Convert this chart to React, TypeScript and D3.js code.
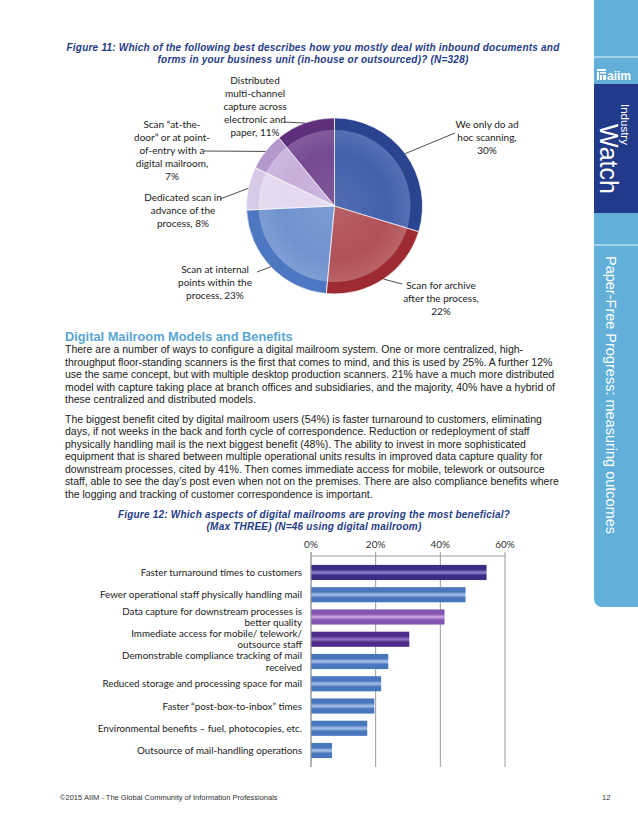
import React from 'react';
import * as d3 from 'd3';

// ---------- data ----------
const pieCategories = [
  'We only do ad hoc scanning',
  'Scan for archive after the process',
  'Scan at internal points within the process',
  'Dedicated scan in advance of the process',
  'Scan "at-the-door" or at point-of-entry with a digital mailroom',
  'Distributed multi-channel capture across electronic and paper',
];
const pieValues = [30, 22, 23, 8, 7, 11];
const pieLabelLines = [
  ['We only do ad', 'hoc scanning,', '30%'],
  ['Scan for archive', 'after the process,', '22%'],
  ['Scan at internal', 'points within the', 'process, 23%'],
  ['Dedicated scan in', 'advance of the', 'process, 8%'],
  ['Scan \u201Cat-the-', 'door\u201D or at point-', 'of-entry with a', 'digital mailroom,', '7%'],
  ['Distributed', 'multi-channel', 'capture across', 'electronic and', 'paper, 11%'],
];

const barCategories = [
  ['Faster turnaround times to customers'],
  ['Fewer operational staff physically handling mail'],
  ['Data capture for downstream processes is', 'better quality'],
  ['Immediate access  for mobile/ telework/', 'outsource staff'],
  ['Demonstrable compliance tracking of mail', 'received'],
  ['Reduced storage and processing space for mail'],
  ['Faster \u201Cpost-box-to-inbox\u201D times'],
  ['Environmental benefits \u2013 fuel, photocopies, etc.'],
  ['Outsource of mail-handling operations'],
];
const barValues = [54.3, 47.8, 41.3, 30.4, 23.9, 21.7, 19.6, 17.4, 6.5];
const barTicks = [0, 20, 40, 60];

const para1 = [
  'There are a number of ways to configure a digital mailroom system. One or more centralized, high-',
  'throughput floor-standing scanners is the first that comes to mind, and this is used by 25%. A further 12%',
  'use the same concept, but with multiple desktop production scanners. 21% have a much more distributed',
  'model with capture taking place at branch offices  and subsidiaries, and the majority, 40% have a hybrid of',
  'these centralized and distributed models.',
];
const para2 = [
  'The biggest benefit cited by digital mailroom users (54%) is faster turnaround to customers, eliminating',
  'days, if not weeks in the back and forth cycle of correspondence. Reduction or redeployment of staff',
  'physically handling mail is the next biggest benefit (48%). The ability to invest in more sophisticated',
  'equipment that is shared between multiple operational units results in improved data capture quality for',
  'downstream processes, cited by 41%. Then comes immediate access for mobile, telework or outsource',
  'staff, able to see the day\u2019s post even when not on the premises. There are also compliance benefits where',
  'the logging and tracking of customer correspondence is important.',
];

// ---------- styles / layout ----------
const pieOuter = ['#2B4490', '#9E2B33', '#4D77C1', '#D8CAE6', '#B398CC', '#5E2F7B'];
const pieInner = ['#3A5AA8', '#AE4A51', '#6A8ECD', '#E3D7EE', '#C4ADDA', '#70428D'];
const pieLabelLayout = [
  { x: 487, y: 124, ex: 455, ey: 133 },
  { x: 441, y: 285, ex: 402, ey: 284 },
  { x: 215, y: 269, ex: 257, ey: 272 },
  { x: 183, y: 197, ex: 220, ey: 199 },
  { x: 172, y: 124, ex: 204, ey: 151 },
  { x: 255, y: 80, ex: 284, ey: 122 },
];
const barColors = [
  ['#3A2D85', '#9182CE'],
  ['#4977BD', '#A9C3EA'],
  ['#8454B3', '#CDA9E4'],
  ['#4C2B8A', '#9476C6'],
  ['#4977BD', '#A9C3EA'],
  ['#4977BD', '#A9C3EA'],
  ['#4977BD', '#A9C3EA'],
  ['#4977BD', '#A9C3EA'],
  ['#4977BD', '#A9C3EA'],
];

const ARIAL = '"Liberation Sans", Arial, sans-serif';
const CAL = 'Lato, "Open Sans", sans-serif';

export default function App() {
  const cx = 334.5, cy = 206, R = 88, Ri = 76;
  const pie = d3.pie<number>().sort(null).value((d) => d);
  const arcs = pie(pieValues);
  const arcOuter = d3.arc<d3.PieArcDatum<number>>().innerRadius(0).outerRadius(R);
  const arcInner = d3.arc<d3.PieArcDatum<number>>().innerRadius(0).outerRadius(Ri);

  const x = d3.scaleLinear().domain([0, 60]).range([311, 505]);
  const y = d3.scaleBand<number>().domain(barValues.map((_, i) => i)).range([556, 767]).paddingInner(0.32).paddingOuter(0.4);

  return (
    <svg width={638} height={826} style={{ position: 'absolute', left: 0, top: 0, display: 'block', background: '#fff' }}>
      <defs>
        {barColors.map((c, i) => (
          <linearGradient key={i} id={`bg${i}`} x1="0" y1="0" x2="0" y2="1">
            <stop offset="0" stopColor={c[0]} />
            <stop offset="0.3" stopColor={c[0]} />
            <stop offset="0.5" stopColor={c[1]} />
            <stop offset="0.7" stopColor={c[0]} />
            <stop offset="1" stopColor={c[0]} />
          </linearGradient>
        ))}
        <radialGradient id="pieShade" cx="0.5" cy="0.5" r="0.5">
          <stop offset="0" stopColor="#fff" stopOpacity={0.12} />
          <stop offset="0.7" stopColor="#fff" stopOpacity={0.04} />
          <stop offset="1" stopColor="#fff" stopOpacity={0.14} />
        </radialGradient>
      </defs>

      {/* sidebar */}
      <path d="M594,0 H638 V607 H602 A8,8 0 0 1 594,599 Z" fill="#62AFDA" />
      <line x1={594} x2={638} y1={57} y2={57} stroke="#E6F2FA" strokeWidth={1} />
      <line x1={594} x2={638} y1={245} y2={245} stroke="#E6F2FA" strokeWidth={1} />
      <rect x={594} y={84} width={44} height={129} fill="#223A8A" />
      <g fill="#fff">
        <rect x={597} y={69} width={9} height={2} />
        <rect x={597} y={72} width={2} height={8} />
        <rect x={600} y={72} width={6} height={1.5} />
        <rect x={600} y={75} width={2} height={5} />
        <rect x={603} y={75} width={3} height={5} />
        <text x={607} y={80} fontFamily={ARIAL} fontWeight="bold" fontSize={12}>aiim</text>
      </g>
      <text transform="translate(621,104) rotate(90)" fill="#fff" fontFamily={ARIAL} fontSize={11.5}>Industry</text>
      <text transform="translate(600,124) rotate(90)" fill="#fff" fontFamily={ARIAL} fontSize={25}>Watch</text>
      <text transform="translate(606,256) rotate(90)" fill="#fff" fontFamily={ARIAL} fontSize={14.5}>Paper-Free Progress: measuring outcomes</text>

      {/* figure 11 title */}
      <g fontFamily={ARIAL} fontWeight="bold" fontStyle="italic" fontSize={10} fill="#1F3C88" textAnchor="middle" letterSpacing={0.22}>
        <text x={313} y={51}>Figure 11: Which of the following best describes how you mostly deal with inbound documents and</text>
        <text x={313} y={63}>forms in your business unit (in-house or outsourced)? (N=328)</text>
      </g>

      {/* pie */}
      <g transform={`translate(${cx},${cy})`}>
        {arcs.map((a, i) => (
          <path key={`o${i}`} d={arcOuter(a) || ''} fill={pieOuter[i]} />
        ))}
        {arcs.map((a, i) => (
          <path key={`i${i}`} d={arcInner(a) || ''} fill={pieInner[i]} />
        ))}
        <circle r={Ri} fill="url(#pieShade)" />
        {arcs.map((a, i) => (
          <path key={`s${i}`} d={arcOuter(a) || ''} fill="none" stroke="#fff" strokeOpacity={0.7} strokeWidth={0.8} />
        ))}
      </g>
      {arcs.map((a, i) => {
        const m = (a.startAngle + a.endAngle) / 2;
        const px = cx + R * Math.sin(m);
        const py = cy - R * Math.cos(m);
        const L = pieLabelLayout[i];
        return (
          <g key={`l${i}`}>
            <line x1={px} y1={py} x2={L.ex} y2={L.ey} stroke="#222" strokeWidth={0.8} />
            <text fontFamily={CAL} fontSize={10} fill="#222" textAnchor="middle">
              {pieLabelLines[i].map((t, j) => (
                <tspan key={j} x={L.x} y={L.y + 3.5 + j * 13.1}>{t}</tspan>
              ))}
            </text>
          </g>
        );
      })}

      {/* heading + body text */}
      <text x={65} y={341} fontFamily={ARIAL} fontWeight="bold" fontSize={12.8} fill="#5BA6D3">Digital Mailroom Models and Benefits</text>
      <g fontFamily={ARIAL} fontSize={10.5} fill="#1a1a1a">
        {para1.map((t, i) => (
          <text key={`p1${i}`} x={65} y={353 + i * 12.6}>{t}</text>
        ))}
        {para2.map((t, i) => (
          <text key={`p2${i}`} x={65} y={422.5 + i * 12.5}>{t}</text>
        ))}
      </g>

      {/* figure 12 title */}
      <g fontFamily={ARIAL} fontWeight="bold" fontStyle="italic" fontSize={10} fill="#1F3C88" textAnchor="middle" letterSpacing={0.22}>
        <text x={314} y={518}>Figure 12: Which aspects of digital mailrooms are proving the most beneficial?</text>
        <text x={314} y={530}>(Max THREE) (N=46 using digital mailroom)</text>
      </g>

      {/* bar chart */}
      <g>
        {barTicks.map((t) => (
          <g key={t}>
            <line x1={x(t)} x2={x(t)} y1={552} y2={767} stroke="#9A9A9A" strokeWidth={1} />
            <text x={x(t)} y={548} textAnchor="middle" fontFamily={CAL} fontSize={10} fill="#333">{`${t}%`}</text>
          </g>
        ))}
        <line x1={x(0)} x2={x(60)} y1={556} y2={556} stroke="#9A9A9A" strokeWidth={1} />
        {barValues.map((v, i) => (
          <rect key={i} x={x(0)} y={y(i)} width={x(v) - x(0)} height={y.bandwidth()} fill={`url(#bg${i})`} />
        ))}
        <line x1={x(0)} x2={x(0)} y1={552} y2={767} stroke="#9A9A9A" strokeWidth={1} />
        {barCategories.map((lines, i) => {
          const c = (y(i) || 0) + y.bandwidth() / 2;
          const n = lines.length;
          return (
            <text key={i} fontFamily={CAL} fontSize={9.8} fill="#222" textAnchor="end">
              {lines.map((t, j) => (
                <tspan key={j} x={302} y={c + 3.5 + (j - (n - 1) / 2) * 11.5}>{t}</tspan>
              ))}
            </text>
          );
        })}
      </g>

      {/* footer */}
      <g fontFamily={ARIAL} fontSize={7.5} fill="#333">
        <text x={60} y={800}>{'\u00A92015 AIIM - The Global Community of Information Professionals'}</text>
        <text x={602} y={800}>12</text>
      </g>
    </svg>
  );
}
